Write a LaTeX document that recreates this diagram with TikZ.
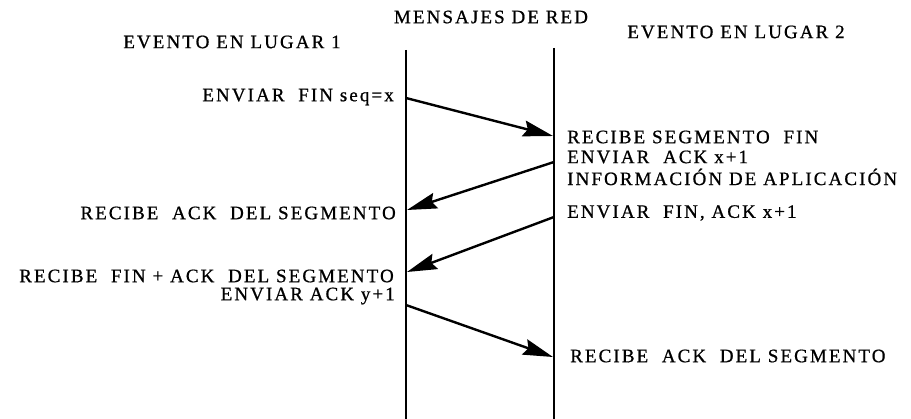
\documentclass[tikz,border=0pt]{standalone}
\usepackage{fontspec}
\setmainfont{Liberation Serif}[LetterSpace=11,FakeBold=0.8]
\usetikzlibrary{arrows.meta}
\begin{document}
\begin{tikzpicture}[x=1pt,y=-1pt,
  lbl/.style={inner sep=0pt,font=\fontsize{19}{22}\selectfont},
  life/.style={line width=2pt},
  msg/.style={line width=2.4pt,-{Stealth[length=30pt,width=16pt,inset=4pt]}}]
\useasboundingbox (0,0) rectangle (911,419);
% lifelines
\coordinate (L0) at (406,50);
\coordinate (L1) at (406,419);
\coordinate (R0) at (554,48);
\coordinate (R1) at (554,419);
\draw[life] (L0) -- (L1);
\draw[life] (R0) -- (R1);
% headings
\node[lbl] (red) at (491,17) {MENSAJES DE RED};
\node[lbl] (lugar1) at (232,42) {EVENTO EN LUGAR 1};
\node[lbl] (lugar2) at (736,32) {EVENTO EN LUGAR 2};
% left texts
\node[lbl,anchor=east] (t1) at (394,97) {ENVIAR\ \ FIN seq=x};
\node[lbl,anchor=east] (t4) at (396,213) {RECIBE\ \ ACK\ \ DEL SEGMENTO};
\node[lbl,anchor=east] (t6) at (394,276) {RECIBE\ \ FIN + ACK\ \ DEL SEGMENTO};
\node[lbl,anchor=east] (t7) at (395,296) {ENVIAR ACK y+1};
% right texts
\node[lbl,anchor=west] (t2a) at (567,137) {RECIBE SEGMENTO\ \ FIN};
\node[lbl,anchor=west] (t2b) at (567,157) {ENVIAR\ \ ACK x+1};
\node[lbl,anchor=west] (t2c) at (567,177) {INFORMACIÓN DE APLICACIÓN};
\node[lbl,anchor=west] (t5) at (567,213) {ENVIAR\ \ FIN, ACK x+1};
\node[lbl,anchor=west] (t8) at (570,356) {RECIBE\ \ ACK\ \ DEL SEGMENTO};
% message end points
\coordinate (a1s) at (406,98);
\coordinate (a1e) at (553,136);
\coordinate (a2s) at (554,162);
\coordinate (a2e) at (407,210);
\coordinate (a3s) at (554,217);
\coordinate (a3e) at (407,272);
\coordinate (a4s) at (406,305);
\coordinate (a4e) at (553,357);
\draw[msg] (a1s) -- (a1e);
\draw[msg] (a2s) -- (a2e);
\draw[msg] (a3s) -- (a3e);
\draw[msg] (a4s) -- (a4e);
\end{tikzpicture}
\end{document}
